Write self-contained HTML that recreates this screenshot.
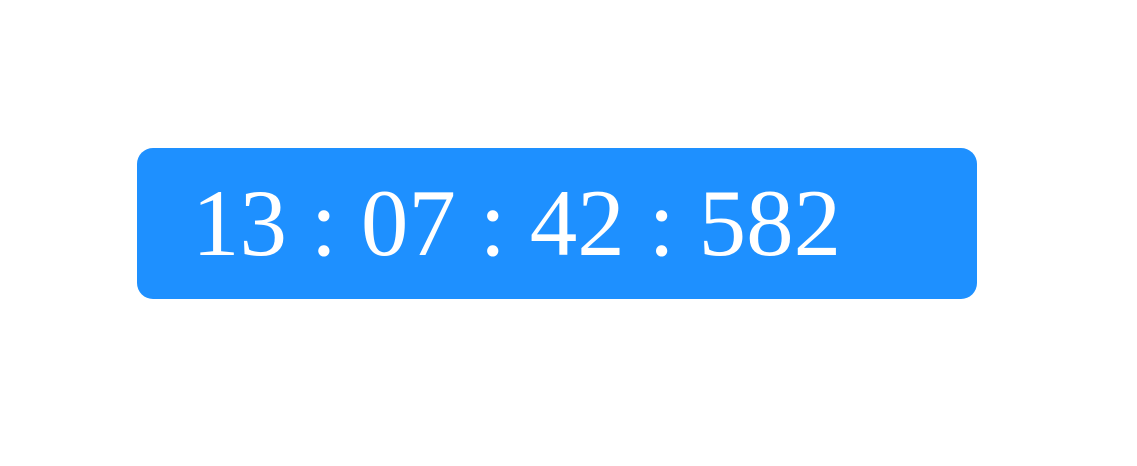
<!DOCTYPE html>
<html>
<head>
<meta charset="utf-8">
<style>
  html, body { margin: 0; padding: 0; width: 1137px; height: 466px; background: #ffffff; overflow: hidden; }
  .clock {
    position: absolute;
    left: 137px; top: 148px;
    width: 840px; height: 151px;
    background: #1E90FF;
    border-radius: 16px;
  }
  .time {
    position: absolute;
    left: 55px; top: 0;
    font-family: "Liberation Serif", serif;
    font-size: 95px;
    line-height: 151px;
    color: #ffffff;
    white-space: pre;
  }
</style>
</head>
<body>
  <div class="clock">
    <div class="time">13 : 07 : 42 : 582</div>
  </div>
</body>
</html>
